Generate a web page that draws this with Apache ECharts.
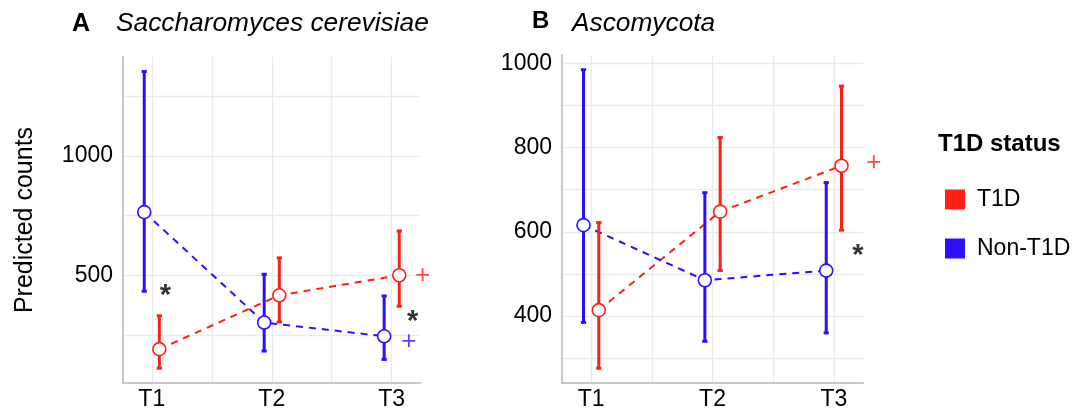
<!DOCTYPE html>
<html>
<head>
<meta charset="utf-8">
<script src="https://cdn.jsdelivr.net/npm/echarts@6/dist/echarts.min.js"></script>
<style>
html,body{margin:0;padding:0;background:#fff;}
#chart{width:1075px;height:413px;}
</style>
</head>
<body>
<div id="chart"></div>
<script>
// ---- data ----
const categories = ['T1', 'T2', 'T3'];
const groups = ['T1D', 'Non-T1D'];

// Panel A: Saccharomyces cerevisiae
const A_T1D_mean = [190, 416, 500];
const A_T1D_lo   = [110, 304, 370];
const A_T1D_hi   = [330, 573, 686];
const A_Non_mean = [765, 302, 244];
const A_Non_lo   = [433, 182, 147];
const A_Non_hi   = [1355, 504, 413];

// Panel B: Ascomycota
const B_T1D_mean = [414, 648, 757];
const B_T1D_lo   = [276, 508, 604];
const B_T1D_hi   = [622, 824, 946];
const B_Non_mean = [616, 485, 508];
const B_Non_lo   = [385, 340, 360];
const B_Non_hi   = [985, 693, 717];

// tick labels / grid values
const A_yLabels = [500, 1000];
const A_yGrid = [250, 500, 750, 1000, 1250];
const B_yLabels = [400, 600, 800, 1000];
const B_yGrid = [300, 400, 500, 600, 700, 800, 900, 1000];
const xLabels = [1, 2, 3];
const xGrid = [1, 1.5, 2, 2.5, 3];

// significance annotations [x, y, text, group]
const A_notes = [[1.114, 451, '*', 'none'], [3.258, 496, '+', 'T1D'], [3.175, 341, '*', 'none'], [3.142, 220, '+', 'Non-T1D']];
const B_notes = [[3.33, 763, '+', 'T1D'], [3.198, 565, '*', 'none']];

// ---- styling ----
const RED = '#FF2014';
const BLUE = '#2A10FF';
const FONT = 'Liberation Sans, Arial, Helvetica, sans-serif';
const DODGE = 0.063;
const colorOf = g => g === 'T1D' ? RED : (g === 'Non-T1D' ? BLUE : '#000');

function xAxisDef(gridIndex) {
  return {
    type: 'value', gridIndex: gridIndex, min: 0.76, max: 3.24,
    axisLine: { show: true, onZero: false, lineStyle: { color: '#C8C8C8', width: 2 } },
    axisTick: { show: false, customValues: xGrid },
    axisLabel: { customValues: xLabels, formatter: v => categories[Math.round(v) - 1] || '',
                 fontSize: 23, color: '#000', fontFamily: FONT, margin: 5 },
    splitLine: { show: true, lineStyle: { color: '#EBEBEB', width: 1.3 } }
  };
}
function yAxisDef(gridIndex, min, max, labels, grid, name) {
  return {
    type: 'value', gridIndex: gridIndex, min: min, max: max,
    name: name || '', nameLocation: 'middle', nameGap: 85,
    nameTextStyle: { fontSize: 25, color: '#000', fontFamily: FONT },
    axisLine: { show: true, lineStyle: { color: '#C8C8C8', width: 2 } },
    axisTick: { show: false, customValues: grid },
    axisLabel: { customValues: labels, formatter: v => String(v),
                 fontSize: 23, color: '#000', fontFamily: FONT, margin: 10 },
    splitLine: { show: true, lineStyle: { color: '#EBEBEB', width: 1.3 } }
  };
}

function panelSeries(idx, t1d, non, notes) {
  const out = [];
  const sets = [
    { name: 'T1D', d: t1d, off: DODGE },
    { name: 'Non-T1D', d: non, off: -DODGE }
  ];
  // dashed lines
  sets.forEach(s => {
    out.push({
      type: 'line', name: s.name, xAxisIndex: idx, yAxisIndex: idx,
      data: s.d.mean.map((v, i) => [i + 1 + s.off, v]),
      symbol: 'none', z: 2, color: colorOf(s.name),
      lineStyle: { color: colorOf(s.name), width: 2, type: [7, 6] }
    });
  });
  // error bars
  sets.forEach(s => {
    out.push({
      type: 'custom', name: s.name, xAxisIndex: idx, yAxisIndex: idx, z: 3,
      color: colorOf(s.name),
      data: s.d.mean.map((v, i) => [i + 1 + s.off, s.d.lo[i], s.d.hi[i]]),
      renderItem: function (params, api) {
        const x = api.value(0);
        const p1 = api.coord([x, api.value(1)]);
        const p2 = api.coord([x, api.value(2)]);
        const st = { stroke: colorOf(s.name), lineWidth: 3 };
        const cw = 2.6;
        return {
          type: 'group', children: [
            { type: 'line', shape: { x1: p1[0], y1: p1[1], x2: p2[0], y2: p2[1] }, style: st },
            { type: 'line', shape: { x1: p1[0] - cw, y1: p1[1], x2: p1[0] + cw, y2: p1[1] }, style: st },
            { type: 'line', shape: { x1: p2[0] - cw, y1: p2[1], x2: p2[0] + cw, y2: p2[1] }, style: st }
          ]
        };
      }
    });
  });
  // points
  sets.forEach(s => {
    out.push({
      type: 'scatter', name: s.name, xAxisIndex: idx, yAxisIndex: idx, z: 4,
      data: s.d.mean.map((v, i) => [i + 1 + s.off, v]),
      symbol: 'circle', symbolSize: 13,
      itemStyle: { color: '#fff', borderColor: colorOf(s.name), borderWidth: 1.6, opacity: 1 }
    });
  });
  // annotations
  out.push({
    type: 'scatter', xAxisIndex: idx, yAxisIndex: idx, z: 5, clip: false, silent: true,
    symbolSize: 0,
    data: notes.map(n => ({
      value: [n[0], n[1]], txt: n[2],
      label: {
        color: colorOf(n[3]),
        fontSize: n[2] === '*' ? 29 : 26,
        fontWeight: n[2] === '*' ? 'bold' : 'normal',
        offset: n[2] === '*' ? [0, 9] : [0, 0]
      }
    })),
    label: {
      show: true, position: 'inside', fontFamily: FONT,
      textBorderColor: 'transparent',
      formatter: p => p.data.txt
    }
  });
  return out;
}

const series = [].concat(
  panelSeries(0, { mean: A_T1D_mean, lo: A_T1D_lo, hi: A_T1D_hi },
                 { mean: A_Non_mean, lo: A_Non_lo, hi: A_Non_hi }, A_notes),
  panelSeries(1, { mean: B_T1D_mean, lo: B_T1D_lo, hi: B_T1D_hi },
                 { mean: B_Non_mean, lo: B_Non_lo, hi: B_Non_hi }, B_notes)
);

const option = {
  animation: false,
  backgroundColor: '#fff',
  textStyle: { fontFamily: FONT },
  grid: [
    { left: 123, top: 57, width: 297.5, height: 326 },
    { left: 562, top: 55, width: 301, height: 328 }
  ],
  xAxis: [xAxisDef(0), xAxisDef(1)],
  yAxis: [
    yAxisDef(0, 48, 1416, A_yLabels, A_yGrid, 'Predicted counts'),
    yAxisDef(1, 241, 1020, B_yLabels, B_yGrid, '')
  ],
  legend: {
    orient: 'vertical', left: 940, top: 183, itemWidth: 20, itemHeight: 20, itemGap: 26,
    icon: 'rect', selectedMode: false,
    textStyle: { fontSize: 23, color: '#000', fontFamily: FONT, padding: [0, 0, 0, 7] },
    data: groups.map(g => ({ name: g, itemStyle: { color: colorOf(g), borderWidth: 0 } }))
  },
  graphic: [
    { type: 'text', x: 72, y: 24, style: { text: 'A', font: 'bold 25px ' + FONT, fill: '#000', verticalAlign: 'middle' } },
    { type: 'text', x: 116, y: 24, style: { text: 'Saccharomyces cerevisiae', font: 'italic 26.3px ' + FONT, fill: '#000', verticalAlign: 'middle' } },
    { type: 'text', x: 532, y: 21, style: { text: 'B', font: 'bold 24px ' + FONT, fill: '#000', verticalAlign: 'middle' } },
    { type: 'text', x: 572, y: 24, style: { text: 'Ascomycota', font: 'italic 26.3px ' + FONT, fill: '#000', verticalAlign: 'middle' } },
    { type: 'text', x: 938, y: 144, style: { text: 'T1D status', font: 'bold 24px ' + FONT, fill: '#000', verticalAlign: 'middle' } }
  ],
  series: series
};

const chart = echarts.init(document.getElementById('chart'), null, { renderer: 'canvas' });
chart.setOption(option);
</script>
</body>
</html>
